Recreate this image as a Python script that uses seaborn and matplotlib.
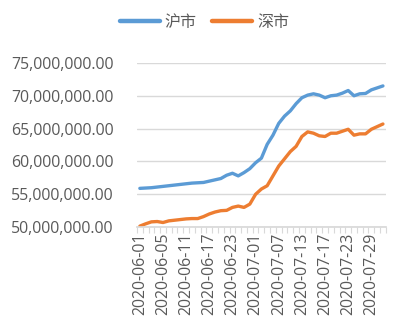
import matplotlib
matplotlib.use("Agg")
import matplotlib.pyplot as plt
import seaborn as sns
import pandas as pd
import numpy as np
from matplotlib.ticker import FuncFormatter, FixedLocator

dates = ["2020-06-01","2020-06-02","2020-06-03","2020-06-04","2020-06-05","2020-06-08","2020-06-09",
         "2020-06-10","2020-06-11","2020-06-12","2020-06-15","2020-06-16","2020-06-17","2020-06-18",
         "2020-06-19","2020-06-22","2020-06-23","2020-06-24","2020-06-29","2020-06-30","2020-07-01",
         "2020-07-02","2020-07-03","2020-07-06","2020-07-07","2020-07-08","2020-07-09","2020-07-10",
         "2020-07-13","2020-07-14","2020-07-15","2020-07-16","2020-07-17","2020-07-20","2020-07-21",
         "2020-07-22","2020-07-23","2020-07-24","2020-07-27","2020-07-28","2020-07-29","2020-07-30",
         "2020-07-31"]
shanghai = [55.90e6, 55.95e6, 56.00e6, 56.10e6, 56.20e6, 56.30e6, 56.40e6, 56.50e6, 56.60e6, 56.70e6,
            56.75e6, 56.80e6, 57.00e6, 57.20e6, 57.40e6, 57.90e6, 58.20e6, 57.80e6, 58.30e6, 58.90e6,
            59.80e6, 60.50e6, 62.60e6, 64.00e6, 65.80e6, 66.90e6, 67.70e6, 68.80e6, 69.70e6, 70.10e6,
            70.30e6, 70.10e6, 69.70e6, 70.00e6, 70.10e6, 70.40e6, 70.80e6, 70.00e6, 70.30e6, 70.35e6,
            70.90e6, 71.20e6, 71.50e6]
shenzhen = [50.15e6, 50.50e6, 50.80e6, 50.85e6, 50.70e6, 50.95e6, 51.05e6, 51.15e6, 51.25e6, 51.30e6,
            51.30e6, 51.60e6, 52.00e6, 52.30e6, 52.50e6, 52.55e6, 53.00e6, 53.20e6, 53.00e6, 53.50e6,
            55.00e6, 55.80e6, 56.30e6, 57.80e6, 59.30e6, 60.40e6, 61.50e6, 62.30e6, 63.80e6, 64.50e6,
            64.30e6, 63.90e6, 63.80e6, 64.30e6, 64.30e6, 64.60e6, 64.90e6, 64.00e6, 64.20e6, 64.20e6,
            64.90e6, 65.30e6, 65.70e6]
series_names = ["沪市", "深市"]
yticks = [50e6, 55e6, 60e6, 65e6, 70e6, 75e6]

sns.set_theme(style="white")
plt.rcParams['font.family'] = ['Open Sans', 'Noto Sans CJK SC', 'DejaVu Sans']

n = len(dates)
df = pd.DataFrame({
    "idx": list(range(n)) * 2,
    "value": shanghai + shenzhen,
    "market": [series_names[0]] * n + [series_names[1]] * n,
})

fig = plt.figure(figsize=(4.04, 3.33), dpi=100)
ax = fig.add_axes([0.339, 0.318, 0.616, 0.493])
sns.lineplot(data=df, x="idx", y="value", hue="market", palette=["#5B9BD5", "#ED7D31"],
             linewidth=2.4, ax=ax, legend=True)

ax.set_xlim(-0.5, n - 0.5)
ax.set_ylim(yticks[0], yticks[-1])
ax.set_yticks(yticks)
ax.yaxis.set_major_formatter(FuncFormatter(lambda v, p: f"{v:,.2f}"))
ax.yaxis.grid(True, color="#D9D9D9", linewidth=1)
ax.set_axisbelow(True)
lab_idx = list(range(0, n, 4))
ax.set_xticks(lab_idx)
ax.set_xticklabels([dates[i] for i in lab_idx], rotation=90)
ax.xaxis.set_minor_locator(FixedLocator(np.arange(-0.5, n, 1.0)))
ax.tick_params(axis="x", which="major", length=0, pad=4, labelsize=11.4, colors="#595959")
ax.tick_params(axis="x", which="minor", length=4, color="#D9D9D9", width=0.8, bottom=True)
ax.tick_params(axis="y", length=0, labelsize=11.4, colors="#595959", pad=17)
for s in ["top", "right", "left"]:
    ax.spines[s].set_visible(False)
ax.spines["bottom"].set_color("#D9D9D9")
ax.set_xlabel("")
ax.set_ylabel("")

handles, labels = ax.get_legend_handles_labels()
leg = ax.legend(handles, labels, loc="center", bbox_to_anchor=(0.506, 1 - 23 / 333),
                bbox_transform=fig.transFigure, ncol=2, frameon=False, fontsize=11.5,
                handlelength=2.5, columnspacing=1.0, handletextpad=0.3)
for t in leg.get_texts():
    t.set_color("#595959")
for h in leg.get_lines():
    h.set_linewidth(3.2)

fig.savefig("out.png", dpi=100)
